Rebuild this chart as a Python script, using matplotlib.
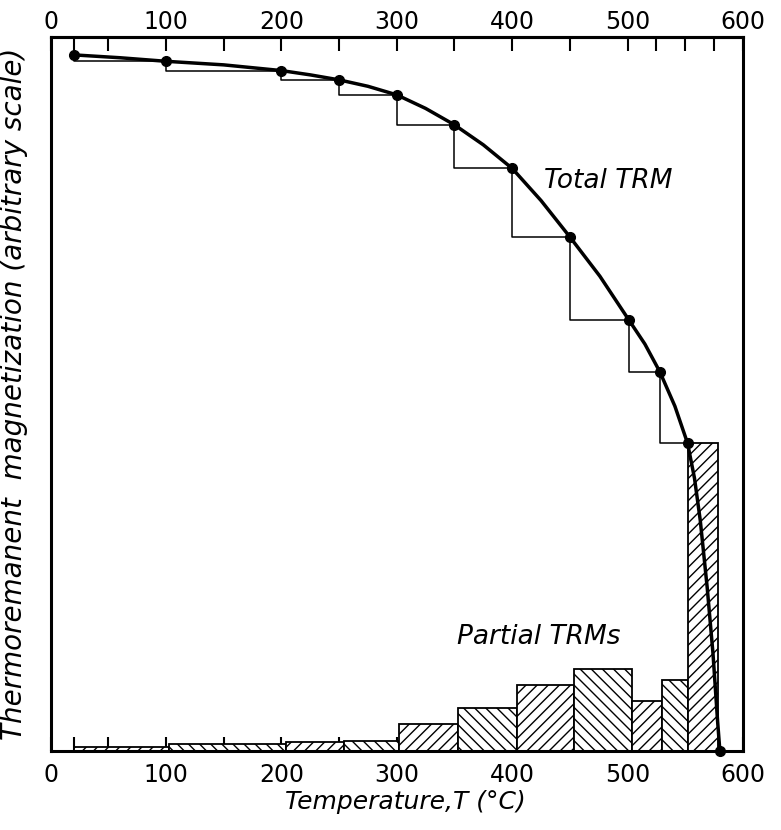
import matplotlib.pyplot as plt

# total TRM measured points (temperature in C, magnetization in arbitrary units)
trm_temp = [20, 100, 200, 250, 300, 350, 400, 450, 501, 528, 552, 580]
trm_mag = [97.5, 96.6, 95.3, 94.0, 91.9, 87.7, 81.6, 72.0, 60.4, 53.1, 43.1, 0.0]

# points along the smooth drawn curve
curve_temp = [20, 60, 100, 150, 200, 225, 250, 275, 300, 325, 350, 375, 400, 425,
              450, 476, 501, 515, 528, 541, 552, 558, 563, 569, 574, 578, 580]
curve_mag = [97.5, 97.1, 96.6, 96.1, 95.3, 94.7, 94.0, 93.1, 91.9, 90.0, 87.7, 84.9,
             81.6, 77.1, 72.0, 66.5, 60.4, 57.0, 53.1, 48.3, 43.1, 38.2, 32.3,
             22.9, 13.7, 4.2, 0.0]

# partial TRM histogram
ptrm_edges = [20, 103, 204, 254, 302, 353, 404, 454, 504, 530, 552, 578]
ptrm_height = [0.6, 1.0, 1.3, 1.4, 3.8, 6.0, 9.3, 11.5, 7.0, 10.0, 43.2]

major_ticks = [0, 100, 200, 300, 400, 500, 600]
minor_ticks = [20, 50, 150, 250, 350, 450, 525, 550, 575]

fig = plt.figure(figsize=(7.81, 8.30), dpi=100)
ax = fig.add_axes([0.0647, 0.0952, 0.8866, 0.8602])

# partial TRM bars, alternating hatch
for i, h in enumerate(ptrm_height):
    left = ptrm_edges[i]
    width = ptrm_edges[i + 1] - left
    hatch = '///' if i % 2 == 0 else '\\\\\\'
    ax.bar(left, h, width=width, align='edge', facecolor='white',
           edgecolor='black', linewidth=1.3, hatch=hatch, zorder=2)

# stair steps between measurements
ax.step(trm_temp[:-1], trm_mag[:-1], where='pre', color='black', lw=1.1, zorder=3)

# smooth total TRM curve
ax.plot(curve_temp, curve_mag, color='black', lw=2.5, zorder=4,
        solid_joinstyle='round')
ax.plot(trm_temp, trm_mag, 'o', color='black', ms=7, zorder=5, clip_on=False)

ax.text(428, 79.8, 'Total TRM', fontsize=19, style='italic', ha='left', va='center')
ax.text(352, 16.0, 'Partial TRMs', fontsize=19, style='italic', ha='left', va='center')

ax.set_xlim(0, 600)
ax.set_ylim(0, 100)
ax.set_xticks(major_ticks)
ax.set_xticks(minor_ticks, minor=True)
ax.set_yticks([])
ax.tick_params(axis='x', which='both', direction='in', top=False, bottom=True,
               labeltop=False, labelbottom=True, length=10, width=1.5,
               labelsize=17)
ax.tick_params(axis='x', which='major', pad=9)

top = ax.secondary_xaxis('top')
top.set_xticks(major_ticks)
top.set_xticks(minor_ticks, minor=True)
top.tick_params(axis='x', which='both', direction='in', length=10, width=1.5,
                labelsize=17)
top.tick_params(axis='x', which='major', pad=2)
top.spines['top'].set_linewidth(2.2)

for s in ax.spines.values():
    s.set_linewidth(2.2)

ax.set_xlabel('Temperature,T (°C)', fontsize=18, style='italic', x=0.513, labelpad=2)
ax.set_ylabel('Thermoremanent  magnetization (arbitrary scale)', fontsize=20,
              style='italic', labelpad=16)

fig.savefig('out.png', dpi=100)
